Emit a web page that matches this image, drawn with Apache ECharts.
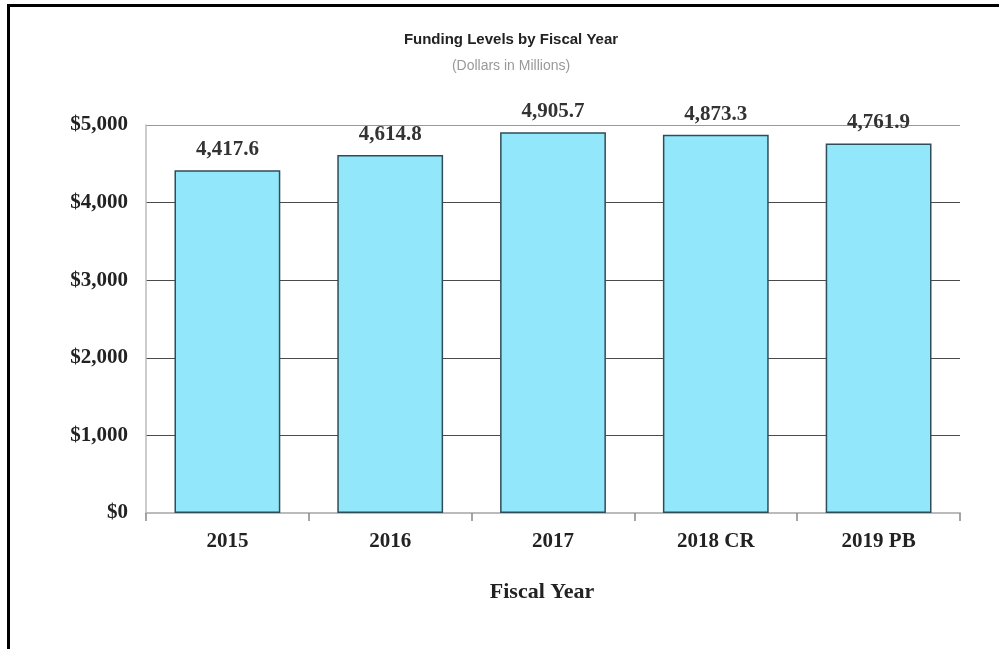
<!DOCTYPE html>
<html>
<head>
<meta charset="utf-8">
<title>Funding Levels by Fiscal Year</title>
<script src="https://cdn.jsdelivr.net/npm/echarts@6/dist/echarts.min.js"></script>
<style>
  html, body { margin: 0; padding: 0; background: #fff; }
  #chart { width: 999px; height: 649px; }
  #frame {
    position: absolute; left: 7px; top: 4px; right: 0; bottom: 0;
    border-top: 3px solid #000; border-left: 3px solid #000;
    pointer-events: none;
  }
</style>
</head>
<body>
<div id="chart"></div>
<div id="frame"></div>
<script>
// 数据
const years = ['2015', '2016', '2017', '2018 CR', '2019 PB'];
const funding = [4417.6, 4614.8, 4905.7, 4873.3, 4761.9];
const yTicks = [0, 1000, 2000, 3000, 4000, 5000];

const serif = '"Liberation Serif", "Times New Roman", serif';
const sans = '"Liberation Sans", Arial, sans-serif';

const chart = echarts.init(document.getElementById('chart'));

const option = {
  animation: false,
  title: {
    text: 'Funding Levels by Fiscal Year',
    subtext: '(Dollars in Millions)',
    left: 506,
    textAlign: 'center',
    top: 27,
    itemGap: 12,
    textStyle: {
      fontFamily: sans,
      fontWeight: 'bold',
      fontSize: 15,
      color: '#222'
    },
    subtextStyle: {
      fontFamily: sans,
      fontSize: 14,
      color: '#999'
    }
  },
  grid: {
    left: 146,
    right: 39,
    top: 125,
    bottom: 136
  },
  xAxis: {
    type: 'category',
    data: years,
    name: 'Fiscal Year',
    nameLocation: 'middle',
    nameGap: 68,
    nameTextStyle: {
      fontFamily: serif,
      fontWeight: 'bold',
      fontSize: 22,
      color: '#222',
      padding: [0, 22, 0, 0]
    },
    axisLine: {
      show: true,
      lineStyle: { color: '#bbb', width: 2 }
    },
    axisTick: {
      show: true,
      alignWithLabel: false,
      length: 8,
      lineStyle: { color: '#888', width: 1.5 }
    },
    axisLabel: {
      margin: 18,
      fontFamily: serif,
      fontWeight: 'bold',
      fontSize: 21,
      color: '#222'
    }
  },
  yAxis: {
    type: 'value',
    min: yTicks[0],
    max: yTicks[yTicks.length - 1],
    interval: 1000,
    axisLine: {
      show: true,
      lineStyle: { color: '#bbb', width: 1.5 }
    },
    axisTick: { show: false },
    axisLabel: {
      margin: 18,
      fontFamily: serif,
      fontWeight: 'bold',
      fontSize: 21,
      color: '#222',
      formatter: function (v) {
        return '$' + v.toLocaleString('en-US');
      }
    },
    splitLine: {
      show: true,
      lineStyle: {
        color: ['#bbb', '#4a4a4a', '#4a4a4a', '#4a4a4a', '#4a4a4a', '#999'],
        width: 1.2
      }
    }
  },
  series: [{
    type: 'bar',
    data: funding,
    barWidth: '65%',
    itemStyle: {
      color: '#92e7fa',
      borderColor: '#2f4d58',
      borderWidth: 1.5
    },
    label: {
      show: true,
      position: 'top',
      distance: 10,
      fontFamily: serif,
      fontWeight: 'bold',
      fontSize: 21,
      color: '#333',
      formatter: function (p) {
        return p.value.toLocaleString('en-US', { minimumFractionDigits: 1, maximumFractionDigits: 1 });
      }
    }
  }]
};

chart.setOption(option);
</script>
</body>
</html>
